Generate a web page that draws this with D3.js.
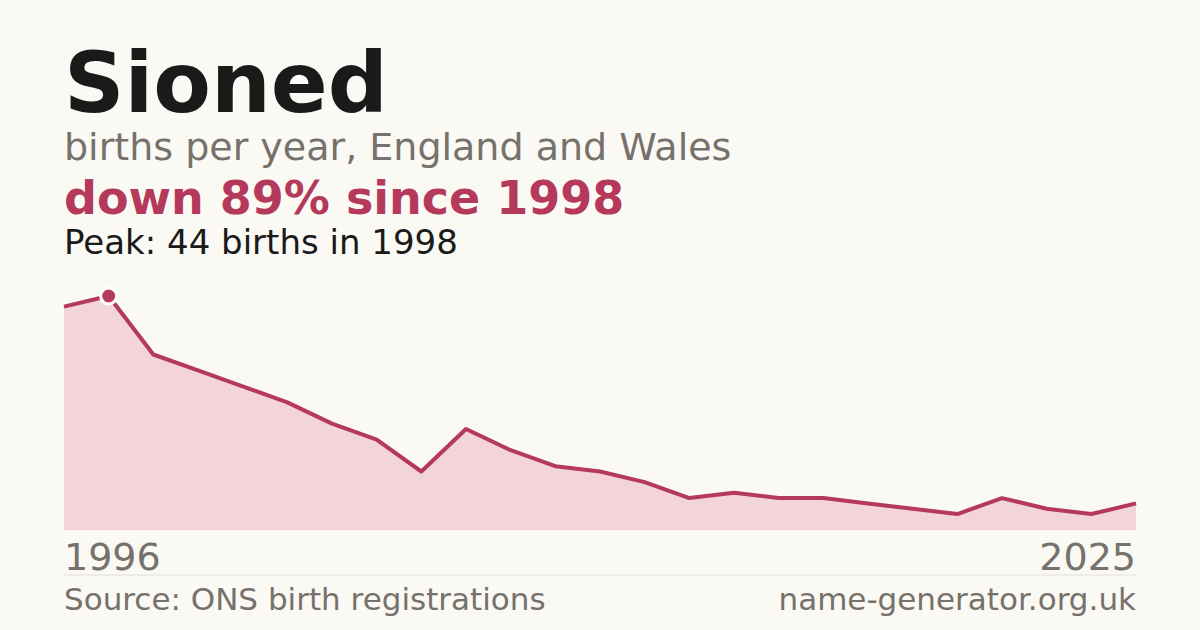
<!DOCTYPE html>
<html>
<head>
<meta charset="utf-8">
<script src="https://cdn.jsdelivr.net/npm/d3@7"></script>
<style>
body { margin: 0; background: #faf9f4; }
svg { display: block; font-family: "DejaVu Sans", sans-serif; }
</style>
</head>
<body>
<div id="chart"></div>
<script>
// births per year
let years = [1996, 1998, 1999, 2000, 2001, 2002, 2003, 2004, 2005, 2006, 2007, 2008, 2009,
    2010, 2011, 2012, 2013, 2014, 2015, 2016, 2017, 2018, 2019, 2020, 2025];
let births = [42, 44, 33, 30, 27, 24, 20, 17, 11, 19, 15, 12, 11, 9, 6, 7, 6, 6, 5, 4, 3, 6, 4, 3, 5];
let axisLabels = ['1996', '2025'];

let width = 1200, height = 630;
let svg = d3.select('#chart').append('svg')
    .attr('width', width).attr('height', height);

svg.append('rect').attr('width', width).attr('height', height).attr('fill', '#faf9f4');

let x = d3.scaleLinear().domain([0, years.length - 1]).range([64, 1136]);
let y = d3.scaleLinear().domain([0, 44]).range([530, 296]);

let area = d3.area()
    .x(function (d, i) { return x(i); })
    .y0(y(0))
    .y1(function (d) { return y(d); });
let line = d3.line()
    .x(function (d, i) { return x(i); })
    .y(function (d) { return y(d); });

svg.append('path').datum(births).attr('d', area).attr('fill', '#f2d4da');
svg.append('path').datum(births).attr('d', line)
    .attr('fill', 'none').attr('stroke', '#b5395a').attr('stroke-width', 4)
    .attr('stroke-linejoin', 'round');

// peak marker
let peak = births.indexOf(d3.max(births));
svg.append('circle').attr('cx', x(peak)).attr('cy', y(births[peak])).attr('r', 8)
    .attr('fill', '#b5395a').attr('stroke', '#fff').attr('stroke-width', 3);

// titles
svg.append('text').attr('x', 64).attr('y', 112).text('Sioned')
    .attr('font-size', 84).attr('font-weight', 'bold').attr('fill', '#1a1a1a');
svg.append('text').attr('x', 64).attr('y', 160).text('births per year, England and Wales')
    .attr('font-size', 38).attr('fill', '#76716b');
svg.append('text').attr('x', 64).attr('y', 214).text('down 89% since 1998')
    .attr('font-size', 46).attr('font-weight', 'bold').attr('fill', '#b5395a');
svg.append('text').attr('x', 64).attr('y', 254).text('Peak: 44 births in 1998')
    .attr('font-size', 34).attr('fill', '#1a1a1a');

// year labels
svg.append('text').attr('x', 64).attr('y', 570).text(axisLabels[0])
    .attr('font-size', 38).attr('fill', '#76716b');
svg.append('text').attr('x', 1136).attr('y', 570).text(axisLabels[1])
    .attr('font-size', 38).attr('fill', '#76716b').attr('text-anchor', 'end');

svg.append('line').attr('x1', 64).attr('x2', 1136).attr('y1', 575).attr('y2', 575)
    .attr('stroke', '#e2dfd8').attr('stroke-width', 1);

svg.append('text').attr('x', 64).attr('y', 610).text('Source: ONS birth registrations')
    .attr('font-size', 31).attr('fill', '#76716b');
svg.append('text').attr('x', 1136).attr('y', 610).text('name-generator.org.uk')
    .attr('font-size', 31).attr('fill', '#76716b').attr('text-anchor', 'end');
</script>
</body>
</html>
